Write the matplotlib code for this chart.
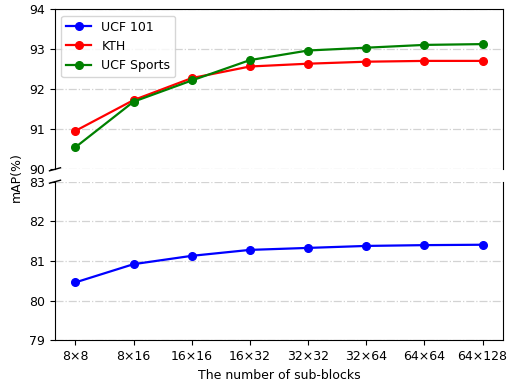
import numpy as np
import matplotlib.pyplot as plt

blocks = ['8×8', '8×16', '16×16', '16×32', '32×32', '32×64', '64×64', '64×128']
ucf101 = [80.46, 80.92, 81.13, 81.28, 81.33, 81.38, 81.40, 81.41]
kth = [90.96, 91.73, 92.28, 92.57, 92.64, 92.69, 92.71, 92.71]
ucf_sports = [90.55, 91.69, 92.22, 92.73, 92.97, 93.04, 93.11, 93.13]

plt.rcParams['font.size'] = 9

fig = plt.figure(figsize=(5.07, 3.83), dpi=100)
ax_top = fig.add_axes([0.1085, 0.558, 0.8835, 0.4177])
ax_bot = fig.add_axes([0.1085, 0.1115, 0.8835, 0.4141], sharex=ax_top)

x = np.arange(len(blocks))
style = dict(lw=1.6, marker='o', markersize=5.5)

# UCF 101 sits far below the other two, so it goes on the lower axis;
# a dummy copy on the upper axis puts it in the legend
ax_top.plot([], [], color='blue', label='UCF 101', **style)
ax_top.plot(x, kth, color='red', label='KTH', **style)
ax_top.plot(x, ucf_sports, color='green', label='UCF Sports', **style)
ax_bot.plot(x, ucf101, color='blue', **style)

ax_top.set_ylim(90, 94)
ax_top.set_yticks([90, 91, 92, 93, 94])
ax_bot.set_ylim(79, 83)
ax_bot.set_yticks([79, 80, 81, 82, 83])

for ax in (ax_top, ax_bot):
    ax.grid(axis='y', linestyle='-.', color='#d3d3d3', lw=0.9)
    ax.set_axisbelow(True)

ax_top.spines['bottom'].set_visible(False)
ax_bot.spines['top'].set_visible(False)
ax_top.tick_params(axis='x', which='both', bottom=False, labelbottom=False)

ax_bot.set_xticks(x)
ax_bot.set_xticklabels(blocks)
ax_bot.set_xlabel('The number of sub-blocks')

# break marks on the left spine
dx, dy = 0.0123, 0.0094
ax_top.plot([-dx, dx], [-dy, dy], transform=ax_top.transAxes,
            color='k', lw=1.0, clip_on=False)
dy2 = dy * 160 / 158.6
ax_bot.plot([-dx, dx], [1 - dy2, 1 + dy2], transform=ax_bot.transAxes,
            color='k', lw=1.0, clip_on=False)

ax_top.legend(loc='upper left')
fig.text(0.032, 0.537, 'mAP(%)', rotation=90, ha='center', va='center')

fig.savefig('out.png', dpi=100)
